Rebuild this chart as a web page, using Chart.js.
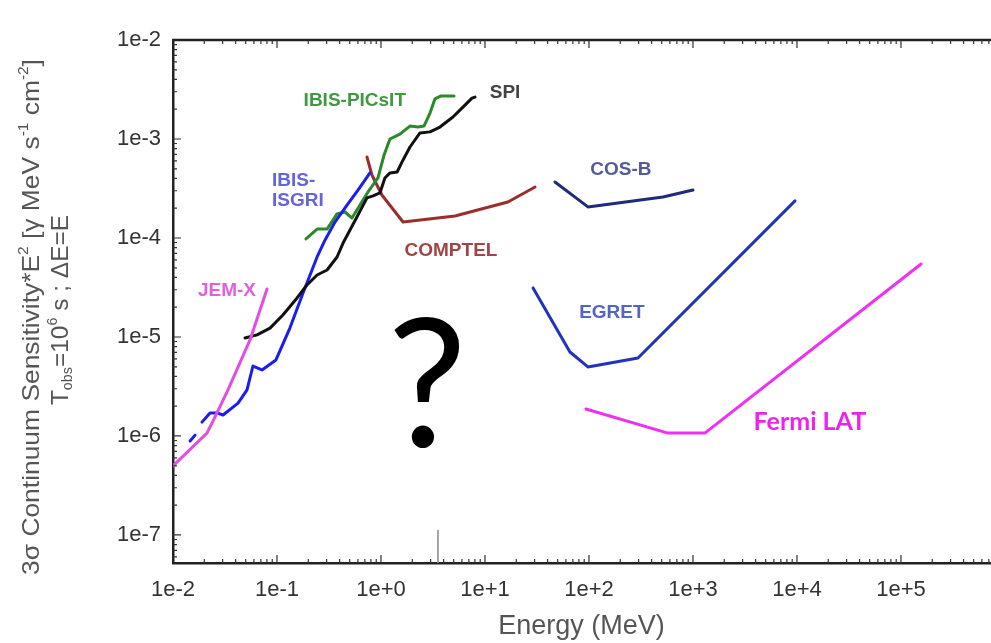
<!DOCTYPE html>
<html>
<head>
<meta charset="utf-8">
<script src="https://cdn.jsdelivr.net/npm/chart.js@4.4.1/dist/chart.umd.min.js"></script>
<style>
  html, body { margin: 0; background: #fff; }
  #wrap { width: 991px; height: 643px; position: relative; }
</style>
</head>
<body>
<div id="wrap"><canvas id="chart"></canvas></div>
<script>
// energies in MeV, sensitivity*E^2 in MeV s^-1 cm^-2
const jemxE = [0.0100, 0.0212, 0.0243, 0.0338, 0.0550, 0.0802];
const jemxV = [4.98e-7, 1.07e-6, 1.42e-6, 2.92e-6, 9.33e-6, 3.05e-5];

const isgriDashE = [0.0146, 0.0163];
const isgriDashV = [8.9e-7, 1.02e-6];
const isgriE = [0.0190, 0.0227, 0.0265, 0.0303, 0.0422, 0.0515, 0.0587, 0.0718, 0.0977,
                0.133, 0.178, 0.243, 0.290, 0.361, 0.471, 0.601, 0.783];
const isgriV = [1.38e-6, 1.71e-6, 1.71e-6, 1.63e-6, 2.15e-6, 2.92e-6, 5.09e-6, 4.64e-6, 5.86e-6,
                1.23e-5, 2.78e-5, 6.43e-5, 9.55e-5, 1.45e-4, 2.15e-4, 3.05e-4, 4.54e-4];

const spiE = [0.0492, 0.0643, 0.0857, 0.114, 0.156, 0.194, 0.243, 0.303, 0.378, 0.432, 0.587,
              0.733, 0.838, 0.977, 1.09, 1.22, 1.43, 1.63, 1.90, 2.37, 2.96, 3.69, 4.92, 6.14, 7.50, 8.02];
const spiV = [9.77e-6, 1.05e-5, 1.23e-5, 1.67e-5, 2.48e-5, 3.35e-5, 4.23e-5, 4.75e-5, 6.43e-5, 8.89e-5, 1.63e-4,
              2.54e-4, 2.66e-4, 2.85e-4, 4.04e-4, 4.54e-4, 4.64e-4, 6.14e-4, 8.30e-4, 1.15e-3, 1.18e-3, 1.32e-3,
              1.67e-3, 2.10e-3, 2.59e-3, 2.65e-3];

const picsitE = [0.190, 0.243, 0.303, 0.378, 0.451, 0.526, 0.628, 0.750, 0.935, 1.07, 1.22, 1.52,
                 1.90, 2.27, 2.59, 2.96, 3.30, 3.78, 5.04];
const picsitV = [9.77e-5, 1.23e-4, 1.23e-4, 1.75e-4, 1.83e-4, 1.59e-4, 2.15e-4, 2.92e-4, 4.04e-4, 6.89e-4,
                 1.00e-3, 1.12e-3, 1.35e-3, 1.32e-3, 1.35e-3, 1.83e-3, 2.54e-3, 2.72e-3, 2.72e-3];

const comptelE = [0.733, 0.818, 1.02, 1.63, 5.15, 16.6, 30.3];
const comptelV = [6.58e-4, 4.33e-4, 2.72e-4, 1.45e-4, 1.67e-4, 2.31e-4, 3.27e-4];

const cosbE = [47.1, 97.7, 515, 1000];
const cosbV = [3.68e-4, 2.06e-4, 2.59e-4, 3.05e-4];

const egretE = [29.0, 65.6, 97.7, 296, 9570];
const egretV = [3.13e-5, 7.05e-6, 4.98e-6, 6.14e-6, 2.37e-4];

const fermiE = [93.5, 575, 1300, 1.56e5];
const fermiV = [1.87e-6, 1.07e-6, 1.07e-6, 5.46e-5];

// stray vertical tick near the axis in the source picture
const strayE = [3.53, 3.53];
const strayV = [1.12e-7, 5.2e-8];

const xTickValues = [1e-2, 1e-1, 1e0, 1e1, 1e2, 1e3, 1e4, 1e5];
const xTickLabels = ['1e-2', '1e-1', '1e+0', '1e+1', '1e+2', '1e+3', '1e+4', '1e+5'];
const yTickValues = [1e-7, 1e-6, 1e-5, 1e-4, 1e-3, 1e-2];
const yTickLabels = ['1e-7', '1e-6', '1e-5', '1e-4', '1e-3', '1e-2'];

const X_MIN = 0.01, X_MAX = 7.18e5;
const Y_MIN = 5.21e-8, Y_MAX = 1e-2;

// curve labels, anchored at ink centre (or left edge for align 'left')
const notes = [
  {text: 'IBIS-PICsIT', x: 0.56,   y: 2.48e-3, color: '#3f9a3f', font: 'bold 19px "Liberation Sans", Arial', align: 'center'},
  {text: 'SPI',         x: 15.6,   y: 3.0e-3,  color: '#444444', font: 'bold 19px "Liberation Sans", Arial', align: 'center'},
  {text: 'IBIS-',       x: 0.0895, y: 3.86e-4, color: '#6464dc', font: 'bold 19px "Liberation Sans", Arial', align: 'left'},
  {text: 'ISGRI',       x: 0.0895, y: 2.42e-4, color: '#6464dc', font: 'bold 19px "Liberation Sans", Arial', align: 'left'},
  {text: 'COMPTEL',     x: 4.71,   y: 7.57e-5, color: '#a04545', font: 'bold 19px "Liberation Sans", Arial', align: 'center'},
  {text: 'JEM-X',       x: 0.033,  y: 2.99e-5, color: '#e060e0', font: 'bold 19px "Liberation Sans", Arial', align: 'center'},
  {text: 'COS-B',       x: 203,    y: 5.09e-4, color: '#555a9a', font: 'bold 19px "Liberation Sans", Arial', align: 'center'},
  {text: 'EGRET',       x: 166,    y: 1.83e-5, color: '#5563c4', font: 'bold 19px "Liberation Sans", Arial', align: 'center'},
  {text: 'Fermi LAT',   x: 1.33e4, y: 1.45e-6, color: '#ee22ee', font: 'bold 25px Lato', align: 'center'},
  {text: '?',           x: 2.77,   y: 3.5e-6,  color: '#000000', font: '178px Lato', align: 'center'}
];

function pts(xs, ys) { return xs.map((v, i) => ({x: v, y: ys[i]})); }

function series(label, xs, ys, color, width) {
  return {label, data: pts(xs, ys), showLine: true, borderColor: color, backgroundColor: color,
          borderWidth: width || 3, pointRadius: 0, tension: 0, borderJoinStyle: 'round', borderCapStyle: 'round'};
}

// rich text: segments with s=1 superscript, s=-1 subscript; stretch widens along the text
function drawRich(ctx, segs, cx, cy, size, color, stretch) {
  const small = Math.round(size * 0.6);
  const fnt = s => (s ? small : size) + 'px "Liberation Sans", Arial';
  let total = 0;
  segs.forEach(g => { ctx.font = fnt(g.s); total += ctx.measureText(g.t).width; });
  ctx.save();
  ctx.translate(cx, cy);
  ctx.rotate(-Math.PI / 2);
  ctx.scale(stretch || 1, 1);
  ctx.fillStyle = color;
  ctx.textBaseline = 'middle';
  ctx.textAlign = 'left';
  let px = -total / 2;
  segs.forEach(g => {
    ctx.font = fnt(g.s);
    const dy = g.s === 1 ? -size * 0.32 : (g.s === -1 ? size * 0.3 : 0);
    ctx.fillText(g.t, px, dy);
    px += ctx.measureText(g.t).width;
  });
  ctx.restore();
}

const decor = {
  id: 'decor',
  afterDraw(chart) {
    const {ctx, chartArea: a, scales: {x, y}} = chart;
    ctx.save();
    ctx.strokeStyle = '#222';
    ctx.lineWidth = 2.5;
    ctx.beginPath();
    ctx.moveTo(a.left - 1, a.top);
    ctx.lineTo(chart.width, a.top);
    ctx.stroke();

    ctx.lineWidth = 1.2;
    ctx.strokeStyle = '#333';
    ctx.beginPath();
    for (let e = -3; e <= 6; e++) {
      for (let k = 1; k < 10; k++) {
        const v = k * Math.pow(10, e);
        const len = k === 1 ? 8 : 4;
        if (v > X_MIN && v <= X_MAX) {
          const px = x.getPixelForValue(v);
          ctx.moveTo(px, a.bottom); ctx.lineTo(px, a.bottom - len);
          ctx.moveTo(px, a.top); ctx.lineTo(px, a.top + len);
        }
      }
    }
    for (let e = -8; e <= -2; e++) {
      for (let k = 1; k < 10; k++) {
        const v = k * Math.pow(10, e);
        const len = k === 1 ? 8 : 4;
        if (v > Y_MIN && v < Y_MAX) {
          const py = y.getPixelForValue(v);
          ctx.moveTo(a.left, py); ctx.lineTo(a.left + len, py);
        }
      }
    }
    ctx.stroke();
    ctx.restore();

    // y axis title, two lines
    drawRich(ctx, [
      {t: '3σ Continuum Sensitivity*E'}, {t: '2', s: 1}, {t: ' [γ MeV s'}, {t: '-1', s: 1},
      {t: ' cm'}, {t: '-2', s: 1}, {t: ']'}
    ], 32, 317, 24, '#555', 1.1);
    drawRich(ctx, [
      {t: 'T'}, {t: 'obs', s: -1}, {t: '=10'}, {t: '6', s: 1}, {t: ' s ; ΔE=E'}
    ], 61, 310, 24, '#555', 1.02);
  },
  afterDatasetsDraw(chart) {
    const {ctx, scales: {x, y}} = chart;
    ctx.save();
    notes.forEach(n => {
      ctx.font = n.font;
      ctx.fillStyle = n.color;
      ctx.textAlign = n.align;
      ctx.textBaseline = 'alphabetic';
      const m = ctx.measureText(n.text);
      const px = x.getPixelForValue(n.x);
      const py = y.getPixelForValue(n.y) + (m.actualBoundingBoxAscent - m.actualBoundingBoxDescent) / 2;
      ctx.fillText(n.text, px, py);
    });
    ctx.restore();
  }
};

Chart.defaults.font.family = '"Liberation Sans", Arial, sans-serif';

new Chart(document.getElementById('chart'), {
  type: 'scatter',
  data: {
    datasets: [
      series('stray', strayE, strayV, '#999', 1),
      series('JEM-X', jemxE, jemxV, '#e24de2'),
      series('SPI', spiE, spiV, '#111111'),
      series('IBIS-ISGRI dash', isgriDashE, isgriDashV, '#1c1cee'),
      series('IBIS-ISGRI', isgriE, isgriV, '#1c1cee'),
      series('IBIS-PICsIT', picsitE, picsitV, '#2a8a2a'),
      series('COMPTEL', comptelE, comptelV, '#9b2d2d'),
      series('COS-B', cosbE, cosbV, '#1f2a7a'),
      series('EGRET', egretE, egretV, '#2233bb'),
      series('Fermi LAT', fermiE, fermiV, '#f030f0')
    ]
  },
  options: {
    responsive: true,
    maintainAspectRatio: false,
    animation: false,
    layout: {padding: {top: 40, right: 1, bottom: 0, left: 0}},
    plugins: {legend: {display: false}, tooltip: {enabled: false}},
    scales: {
      x: {
        type: 'logarithmic',
        min: X_MIN, max: X_MAX,
        afterBuildTicks: s => { s.ticks = xTickValues.map(v => ({value: v})); },
        afterFit: s => { s.height = 80; },
        grid: {display: false, drawTicks: false},
        border: {color: '#222', width: 2.5},
        ticks: {
          callback: v => xTickLabels[xTickValues.indexOf(v)],
          autoSkip: false, maxRotation: 0, padding: 14, color: '#333', font: {size: 22}
        },
        title: {display: true, text: 'Energy (MeV)', color: '#555', font: {size: 27}, padding: {top: 0, bottom: 0}}
      },
      y: {
        type: 'logarithmic',
        min: Y_MIN, max: Y_MAX,
        afterBuildTicks: s => { s.ticks = yTickValues.map(v => ({value: v})); },
        afterFit: s => { s.width = 173; },
        grid: {display: false, drawTicks: false},
        border: {color: '#222', width: 2.5},
        ticks: {
          callback: v => yTickLabels[yTickValues.indexOf(v)],
          autoSkip: false, padding: 12, color: '#333', font: {size: 22}
        }
      }
    }
  },
  plugins: [decor]
});
</script>
</body>
</html>
